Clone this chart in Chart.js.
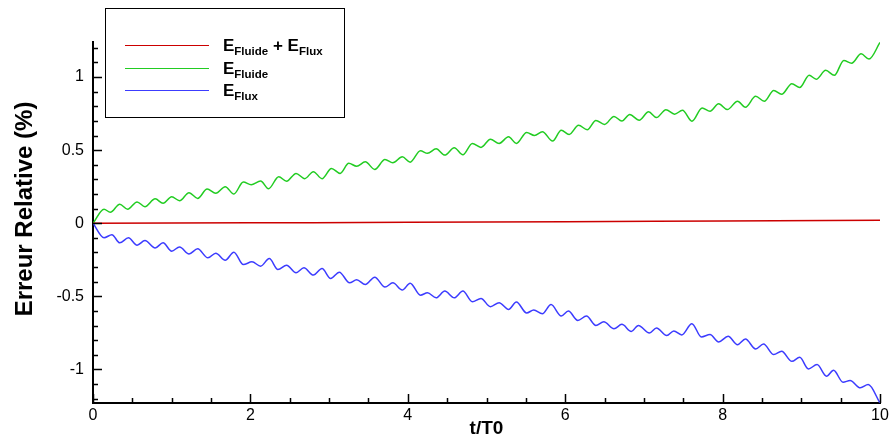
<!DOCTYPE html>
<html>
<head>
<meta charset="utf-8">
<script src="https://cdn.jsdelivr.net/npm/chart.js@4.4.1/dist/chart.umd.min.js"></script>
<style>
  html, body { margin: 0; padding: 0; background: #fff; }
  #wrap { width: 893px; height: 439px; }
</style>
</head>
<body>
<div id="wrap"><canvas id="errChart" width="893" height="439"></canvas></div>
<script>
// t/T0 values and relative errors (%) (peaks / troughs)
const tFluide = [0, 0.14, 0.22, 0.34, 0.44, 0.56, 0.66, 0.79, 0.89, 1.00, 1.10, 1.22, 1.33, 1.45, 1.56, 1.68, 1.79, 1.91, 2.01, 2.13, 2.23, 2.36, 2.46, 2.58, 2.69, 2.80, 2.91, 3.03, 3.14, 3.25, 3.35, 3.46, 3.58, 3.71, 3.81, 3.93, 4.03, 4.16, 4.25, 4.36, 4.47, 4.59, 4.70, 4.82, 4.93, 5.05, 5.16, 5.28, 5.38, 5.51, 5.61, 5.71, 5.84, 5.95, 6.05, 6.17, 6.28, 6.39, 6.50, 6.62, 6.72, 6.82, 6.94, 7.06, 7.16, 7.28, 7.39, 7.49, 7.61, 7.74, 7.84, 7.95, 8.06, 8.19, 8.29, 8.42, 8.53, 8.65, 8.75, 8.88, 8.98, 9.10, 9.19, 9.31, 9.42, 9.54, 9.64, 9.76, 9.86, 10.0];
const errFluide = [0, 0.096, 0.075, 0.13, 0.096, 0.146, 0.113, 0.167, 0.136, 0.181, 0.154, 0.209, 0.170, 0.234, 0.205, 0.250, 0.200, 0.282, 0.264, 0.289, 0.236, 0.318, 0.287, 0.341, 0.305, 0.353, 0.305, 0.375, 0.341, 0.41, 0.39, 0.42, 0.368, 0.436, 0.414, 0.455, 0.418, 0.496, 0.478, 0.509, 0.466, 0.516, 0.468, 0.545, 0.519, 0.575, 0.546, 0.591, 0.546, 0.621, 0.600, 0.626, 0.562, 0.637, 0.607, 0.670, 0.640, 0.703, 0.676, 0.731, 0.699, 0.744, 0.705, 0.762, 0.723, 0.777, 0.746, 0.773, 0.698, 0.789, 0.766, 0.817, 0.778, 0.835, 0.794, 0.868, 0.835, 0.909, 0.882, 0.955, 0.928, 1.012, 0.985, 1.046, 1.012, 1.114, 1.095, 1.159, 1.123, 1.237];

const tFlux = [0, 0.14, 0.24, 0.34, 0.45, 0.56, 0.66, 0.79, 0.89, 1.00, 1.10, 1.22, 1.33, 1.46, 1.56, 1.68, 1.79, 1.91, 2.02, 2.13, 2.24, 2.35, 2.46, 2.58, 2.68, 2.80, 2.91, 3.02, 3.13, 3.26, 3.35, 3.46, 3.58, 3.71, 3.81, 3.93, 4.03, 4.16, 4.25, 4.36, 4.47, 4.59, 4.70, 4.82, 4.93, 5.05, 5.16, 5.28, 5.38, 5.51, 5.60, 5.71, 5.82, 5.95, 6.04, 6.16, 6.27, 6.39, 6.49, 6.62, 6.72, 6.84, 6.93, 7.07, 7.16, 7.29, 7.38, 7.48, 7.61, 7.73, 7.84, 7.95, 8.07, 8.19, 8.29, 8.42, 8.52, 8.65, 8.75, 8.88, 8.98, 9.09, 9.20, 9.32, 9.41, 9.53, 9.62, 9.75, 9.85, 10.0];
const errFlux = [0, -0.10, -0.078, -0.134, -0.10, -0.150, -0.119, -0.169, -0.134, -0.191, -0.162, -0.21, -0.175, -0.237, -0.205, -0.253, -0.198, -0.283, -0.264, -0.294, -0.242, -0.317, -0.287, -0.339, -0.305, -0.355, -0.310, -0.378, -0.335, -0.408, -0.387, -0.419, -0.369, -0.437, -0.408, -0.457, -0.410, -0.492, -0.476, -0.510, -0.464, -0.510, -0.464, -0.537, -0.515, -0.571, -0.544, -0.590, -0.539, -0.614, -0.594, -0.619, -0.556, -0.635, -0.601, -0.665, -0.635, -0.699, -0.674, -0.722, -0.692, -0.740, -0.699, -0.751, -0.717, -0.769, -0.737, -0.764, -0.687, -0.778, -0.762, -0.812, -0.774, -0.831, -0.792, -0.860, -0.826, -0.899, -0.876, -0.945, -0.917, -0.997, -0.967, -1.047, -1.006, -1.088, -1.076, -1.126, -1.104, -1.23];

const tSomme = [0, 2, 4, 6, 8, 10];
const errSomme = [0, 0.003, 0.006, 0.010, 0.015, 0.020];

const xTicks = [0, 2, 4, 6, 8, 10];
const yTicks = [-1, -0.5, 0, 0.5, 1];

// legend labels, _{...} = subscript
const labels = ['E_{Fluide} + E_{Flux}', 'E_{Fluide}', 'E_{Flux}'];
const colors = ['#cc0000', '#22cc22', '#3c3cff'];
const yTitle = 'Erreur Relative (%)';

const FONT = '"Liberation Sans", Arial, Helvetica, sans-serif';
Chart.defaults.font.family = FONT;
Chart.defaults.color = '#000';

function pts(xs, ys) {
  return xs.map((x, i) => ({ x: x, y: ys[i] }));
}

// ticks drawn inward like the original plot, plus minor ticks
const innerTicks = {
  id: 'innerTicks',
  afterDraw(chart) {
    const ctx = chart.ctx;
    const xs = chart.scales.x, ys = chart.scales.y;
    const a = chart.chartArea;
    ctx.save();
    ctx.strokeStyle = '#000';
    ctx.lineWidth = 1.5;
    ctx.beginPath();
    for (let v = xs.min; v <= xs.max + 1e-9; v += 0.5) {
      const px = Math.round(xs.getPixelForValue(v)) + 0.5;
      const len = xTicks.includes(Math.round(v * 10) / 10) ? 9 : 5;
      ctx.moveTo(px, a.bottom);
      ctx.lineTo(px, a.bottom - len);
    }
    for (let k = -12; k <= 12; k++) {
      const v = k / 10;
      const py = Math.round(ys.getPixelForValue(v)) + 0.5;
      const len = (k % 5 === 0) ? 9 : 5;
      ctx.moveTo(a.left, py);
      ctx.lineTo(a.left + len, py);
    }
    ctx.stroke();

    // y axis title, a bit above the middle as in the original
    ctx.translate(25, 209);
    ctx.rotate(-Math.PI / 2);
    ctx.font = 'bold 24px ' + FONT;
    ctx.fillStyle = '#000';
    ctx.textAlign = 'center';
    ctx.textBaseline = 'middle';
    ctx.fillText(yTitle, 0, 0);
    ctx.restore();
  }
};

// legend box with subscripts
const subLegend = {
  id: 'subLegend',
  afterDraw(chart) {
    const ctx = chart.ctx;
    const box = { x: 105.5, y: 8.5, w: 239, h: 109 };
    ctx.save();
    ctx.fillStyle = '#fff';
    ctx.fillRect(box.x, box.y, box.w, box.h);
    ctx.strokeStyle = '#000';
    ctx.lineWidth = 1;
    ctx.strokeRect(box.x, box.y, box.w, box.h);
    chart.data.datasets.forEach((ds, i) => {
      const y = 45 + i * 22.5;
      ctx.strokeStyle = ds.borderColor;
      ctx.lineWidth = 1.2;
      ctx.beginPath();
      ctx.moveTo(125, Math.round(y) + 0.5);
      ctx.lineTo(209, Math.round(y) + 0.5);
      ctx.stroke();
      // text
      let x = 223;
      const base = y + 6;
      ctx.fillStyle = '#000';
      ctx.textBaseline = 'alphabetic';
      const parts = ds.label.split(/(_\{[^}]*\})/).filter(s => s.length);
      parts.forEach(p => {
        if (p.startsWith('_{')) {
          const s = p.slice(2, -1);
          ctx.font = 'bold 11.5px ' + FONT;
          ctx.fillText(s, x, base + 4);
          x += ctx.measureText(s).width;
        } else {
          ctx.font = 'bold 17px ' + FONT;
          ctx.fillText(p, x, base);
          x += ctx.measureText(p).width;
        }
      });
    });
    ctx.restore();
  }
};

new Chart(document.getElementById('errChart'), {
  type: 'line',
  data: {
    datasets: [
      { label: labels[0], data: pts(tSomme, errSomme), borderColor: colors[0] },
      { label: labels[1], data: pts(tFluide, errFluide), borderColor: colors[1] },
      { label: labels[2], data: pts(tFlux, errFlux), borderColor: colors[2] }
    ]
  },
  options: {
    responsive: false,
    animation: false,
    layout: { padding: { left: 0, top: 42, right: 13, bottom: 0 } },
    elements: {
      point: { radius: 0 },
      line: { borderWidth: 1.5, cubicInterpolationMode: 'monotone', fill: false }
    },
    plugins: {
      legend: { display: false },
      tooltip: { enabled: false }
    },
    scales: {
      x: {
        type: 'linear',
        min: 0,
        max: 10,
        afterBuildTicks: s => { s.ticks = xTicks.map(v => ({ value: v })); },
        afterFit: s => { s.height = 36; },
        grid: { display: true, drawOnChartArea: false, drawTicks: false },
        border: { display: true, color: '#000', width: 2 },
        ticks: { font: { size: 16 }, padding: 3, maxRotation: 0, callback: v => String(v) },
        title: { display: true, text: 't/T0', font: { size: 19, weight: 'bold' }, padding: { top: 0, bottom: -1 } }
      },
      y: {
        type: 'linear',
        min: -1.23,
        max: 1.24,
        afterBuildTicks: s => { s.ticks = yTicks.map(v => ({ value: v })); },
        afterFit: s => { s.width = 93; },
        grid: { display: true, drawOnChartArea: false, drawTicks: false },
        border: { display: true, color: '#000', width: 2 },
        ticks: { font: { size: 16 }, padding: 9, callback: v => String(v) }
      }
    }
  },
  plugins: [innerTicks, subLegend]
});
</script>
</body>
</html>
